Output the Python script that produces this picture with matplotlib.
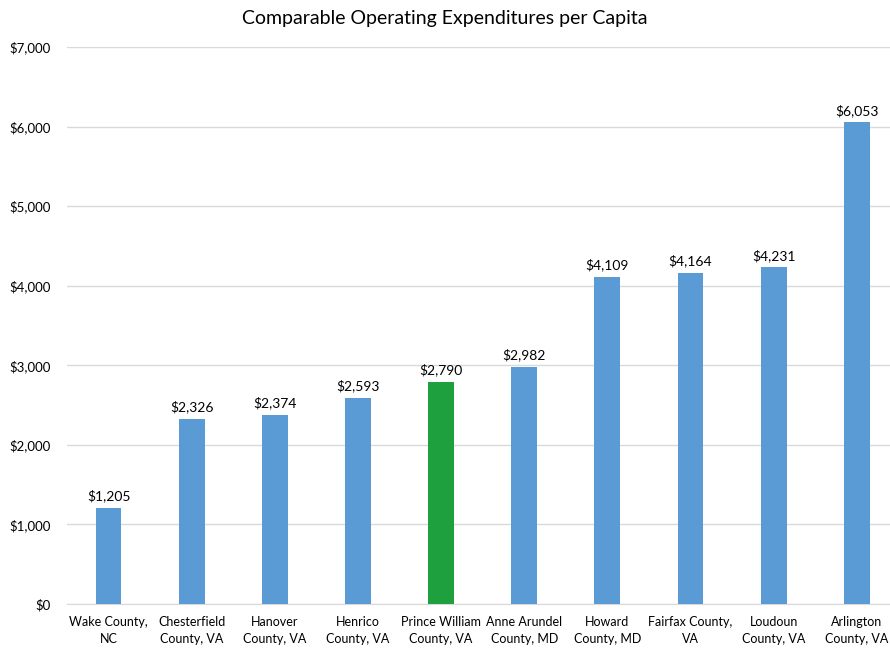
import matplotlib
matplotlib.use('Agg')
import matplotlib.pyplot as plt
from matplotlib.ticker import FuncFormatter

plt.rcParams['font.family'] = ['Lato', 'DejaVu Sans']

counties = ['Wake County,\nNC', 'Chesterfield\nCounty, VA', 'Hanover\nCounty, VA',
            'Henrico\nCounty, VA', 'Prince William\nCounty, VA', 'Anne Arundel\nCounty, MD',
            'Howard\nCounty, MD', 'Fairfax County,\nVA', 'Loudoun\nCounty, VA',
            'Arlington\nCounty, VA']
spending = [1205, 2326, 2374, 2593, 2790, 2982, 4109, 4164, 4231, 6053]
highlight = 'Prince William\nCounty, VA'

blue = '#5B9BD5'
green = '#1FA03F'
colors = [green if c == highlight else blue for c in counties]

fig = plt.figure(figsize=(8.9, 6.48), dpi=100)
ax = fig.add_axes([0.0753, 0.068, 0.9247, 0.8595])

x = range(len(counties))
bars = ax.bar(x, spending, width=0.31, color=colors, zorder=3)
for xi, v in zip(x, spending):
    ax.text(xi, v + 70, '${:,}'.format(v), ha='center', va='bottom', fontsize=10, color='#000000')

ax.set_ylim(0, 7000)
ax.set_yticks(range(0, 7001, 1000))
ax.yaxis.set_major_formatter(FuncFormatter(lambda v, p: '${:,.0f}'.format(v)))
ax.set_xlim(-0.5, 9.4)
ax.set_xticks(list(x))
ax.set_xticklabels(counties, fontsize=9, linespacing=1.45)
ax.tick_params(axis='y', labelsize=9.5, length=0, pad=12)
ax.tick_params(axis='x', length=0, pad=9)
ax.grid(axis='y', color='#D9D9D9', linewidth=1, zorder=0)
for s in ['top', 'right', 'left']:
    ax.spines[s].set_visible(False)
ax.spines['bottom'].set_color('#D9D9D9')

fig.suptitle('Comparable Operating Expenditures per Capita', fontsize=14, y=0.985)

fig.savefig('out.png', dpi=100)
